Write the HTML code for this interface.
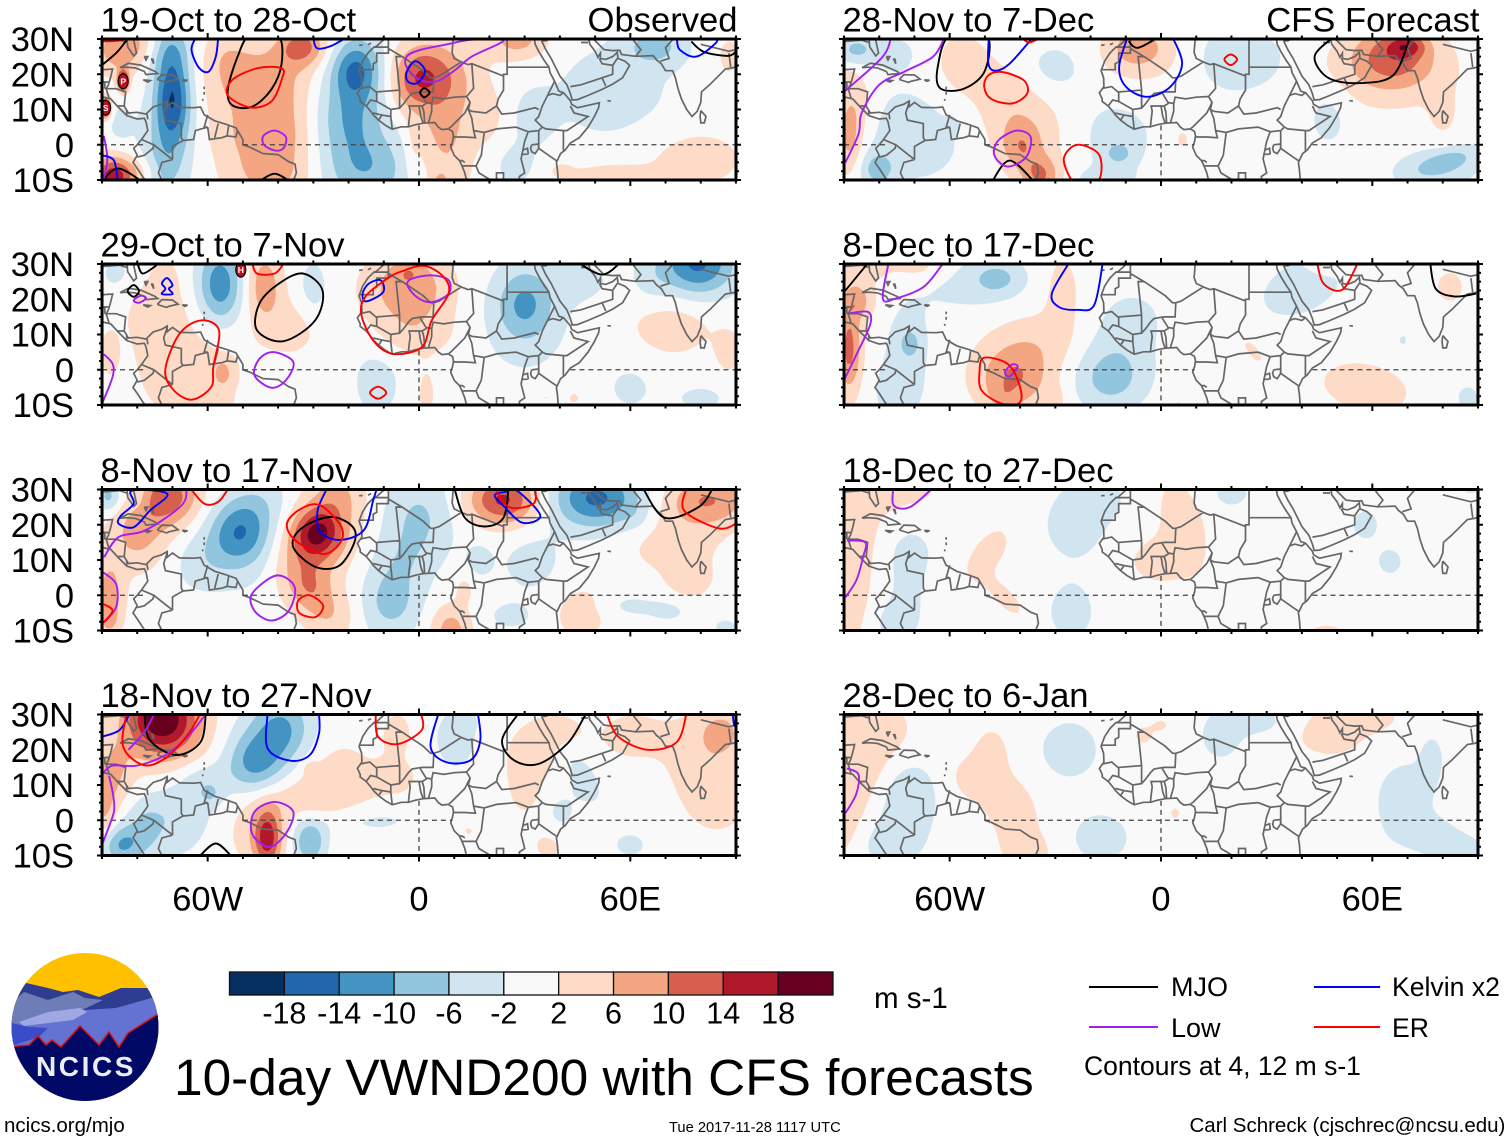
<!DOCTYPE html>
<html lang="en">
<head>
<meta charset="utf-8">
<title>10-day VWND200 with CFS forecasts</title>
<style>
html,body{margin:0;padding:0;background:#fff;}
svg{display:block;font-family:"Liberation Sans",sans-serif;}
</style>
</head>
<body>
<svg id="chart" xmlns="http://www.w3.org/2000/svg" width="1510" height="1142" viewBox="0 0 1510 1142">
  <rect width="1510" height="1142" fill="#fff"/>
  <g id="panels"></g>

  <g>
    <clipPath id="logoClip"><ellipse cx="85" cy="1027" rx="73.5" ry="74"/></clipPath>
    <g clip-path="url(#logoClip)">
      <rect x="5" y="945" width="165" height="170" fill="#ffc000"/>
      <polygon fill="#2e3d8f" points="22,982 48,988 63,992 78,990 99,997 121,988 150,988 165,1000 165,1110 5,1110 5,1000"/>
      <polygon fill="#6e7db5" points="15,1000 24,992 48,1000 73,992 85,998 103,1000 82,1010 40,1025 8,1030"/>
      <polygon fill="#6473d2" points="8,1028 40,1022 85,1010 116,1008 155,997 165,1010 165,1060 5,1060"/>
      <polygon fill="#a0a8e4" points="19,1022 48,1012 80,1008 87,1012 73,1020 24,1026"/>
      <polygon fill="#3a4cc8" points="8,1022 29,1027 48,1028 39,1037 8,1047"/>
      <polygon fill="#000a66" stroke="#e01010" stroke-width="1.5" points="8,1047 29,1045 38,1036 46,1045 52,1040 61,1047 80,1026 99,1045 109,1032 119,1047 128,1033 158,1014 170,1008 170,1115 0,1115 0,1047"/>
      <text x="86" y="1076" text-anchor="middle" font-size="28" font-weight="bold" letter-spacing="2.6" fill="#eceef6">NCICS</text>
    </g>
  </g>

  <g id="colorbar"></g>
  <text x="874" y="1008" font-size="29.5">m s-1</text>

  <g>
    <line x1="1089" x2="1158" y1="987" y2="987" stroke="#000" stroke-width="2"/>
    <text x="1171" y="996" font-size="27">MJO</text>
    <line x1="1089" x2="1158" y1="1027" y2="1027" stroke="#a020f0" stroke-width="2"/>
    <text x="1171" y="1037" font-size="27">Low</text>
    <line x1="1314" x2="1380" y1="987" y2="987" stroke="#0000ff" stroke-width="2"/>
    <text x="1392" y="996" font-size="26.6">Kelvin x2</text>
    <line x1="1314" x2="1380" y1="1027" y2="1027" stroke="#ff0000" stroke-width="2"/>
    <text x="1392" y="1037" font-size="26.6">ER</text>
    <text x="1084" y="1075" font-size="26.5">Contours at 4, 12 m s-1</text>
  </g>

  <text x="174" y="1095" font-size="51.4">10-day VWND200 with CFS forecasts</text>
  <text x="4" y="1132" font-size="20.5">ncics.org/mjo</text>
  <text x="669" y="1132" font-size="14.7">Tue 2017-11-28 1117 UTC</text>
  <text x="1189.5" y="1132" font-size="20.5">Carl Schreck (cjschrec@ncsu.edu)</text>
</svg>

<script>
const panelTitles=["19-Oct to 28-Oct","29-Oct to 7-Nov","8-Nov to 17-Nov","18-Nov to 27-Nov","28-Nov to 7-Dec","8-Dec to 17-Dec","18-Dec to 27-Dec","28-Dec to 6-Jan"];
const lonTickValues=[-60,0,60];
const lonTickLabels=["60W","0","60E"];
const latTickValues=[30,20,10,0,-10];
const latTickLabels=["30N","20N","10N","0","10S"];
const colorLevels=[-18,-14,-10,-6,-2,2,6,10,14,18];
const colorFills=["#053061","#2166ac","#4393c3","#92c5de","#d1e5f0","#f9f9f9","#fddbc7","#f4a582","#d6604d","#b2182b","#67001f"];

/* Anomaly centres: lon, lat, spread in lon, spread in lat, m/s, tilt */
const field1=[[-70,14,3.6,9,-17],[-71,28,4.5,5,-6],[-72,-7,4.5,8,-6],[-71,4,6,8,-3],[-18,21,5,6,-13],[-20,7,6.5,7,-7],[-15,-7,9.5,7,-8],[-17,12,9,20,-2.5],
[-33,28,5,4,11],[-47,14,9,8,7],[-42,22,10,6,3.2],[-55,26,5,6,3.4],[-42,-8,9,6,7.5],[-45,2,10,5,4.2],[-37,8,5,8,3],
[-85,27,5,5,9],[-78,29,4,3,3],[-87,-9,4,4,16],[-80,-8,4,3,4],[-84,18,1,2,24],[-89,10.5,1,2,24],
[0,20,6,6.5,11],[10,20,7,7,3.5],[-3,15,4,5,2.4],[7,3,6,13,7],[6,-10,1.5,1.5,4],[28,30,6,4,8],[20,8,4,6,3],[-2,-2,1.5,6,2.5],
[67,28,6,4,-7],[55,15,13,11,-3.6],[32,8,5,6,-3],[27,-6,5,5,-3],[40,-7,3,2,2.6],[88,25,3,5,3],
[54,-10,8,3,6],[78,-4,11,6.5,3.7],[-85,6,3,5,-2.8]];
const mjo1=[['c',-48,31,-40,31,-39,23,-42,15.6,-47.4,10.8,-53,11.2,-54.3,15.6,-51.5,25],[-90,22.6,-86,26,-83.3,29.3,-82,31],[-90,-10.5,-85.5,-6.7,-78.5,-10.5],[-45.5,-10.5,-41,-8.2,-36.5,-10.5],[77.3,29.3,80.8,26.4,87.6,25.2,90,26.4],['c',1.5,16,3,14.8,1.5,13.5,0.3,14.8]];
const kelvin1=[[-63.3,30.5,-64.6,27,-62.6,22,-59.8,20.7,-57.7,25,-57,30.5],[-30,30.5,-29,27.4,-25,28,-20.5,30.5],[-89.8,-3,-86.6,-4.5,-85.5,-10.5],[73.2,30.5,74,27,78.7,25,84.2,28.8,84.6,30.5],['c',-3.5,20.7,-1,23.7,1.7,21,-0.5,17.5,-3.2,18]];
const low1=[['c',-3.5,25,0,26.8,8,28.5,15,29.8,24,29.6,15,25,10,21,5,18,0,18.5,-3.5,22],['c',-41,4,-37.8,2.2,-38.5,-1,-41,-1.6,-44,0,-44.2,2.5],[-89.5,2.5,-88.5,-4,-89.7,-10.5]];
const er1=[['c',-39,21.7,-46,21.7,-53,18.4,-54.3,14,-48,10.6,-42,12.2,-39,18.4],[-90,29.3,-85,29.6,-83,30.5]];
const tc1=[[-84,18,"P"],[-89,10.5,"S"]];

const field2=[[-56.5,24,4.5,8,-13],[-85,27,5,5,-3],[-75,19,6,8,3.8],[-72,26,2,3,3],[-44,24,3.6,7,8.5],[-36,12,6,6,3.4],[-30,23,3,6,-4],
[-65,0,12,12,3.9],[-55.7,-1,1.6,2.4,6.5],[-88,5,2,5,3],[-3,23,8.5,7,9.2],[-3,28,3,2,3],[-2,10,9,5,3.6],[2,-7,2.3,6,3],
[30,19,5.5,7,-8],[30,14,9,11,-3.6],[47,25,7,5,-2.6],[79,30,7.5,6.5,-15],[66,25,4,5,-2.8],
[72,13,9,7,3.9],[88,5,3,5,3],[60,-5,5,5,-3],[80,-8,6,3,-3],[-12,-3,5.5,9,-3.4],[-60,-10,4,2,2],[44,-8,2,2,2.6],[36,-8,2.5,1.5,2.5]];
const mjo2=[[-80,30.5,-78.5,27.3,-75,29.3,-74,30.5],['c',-33,27.3,-27.4,22.5,-29.5,14,-38.5,8.1,-46,11.2,-45.3,18.8,-39.8,24.4],[45,30.5,52,27,57.3,30.5],['c',-81,24,-79.5,22.3,-81,20.7,-82.7,22.3]];
const kelvin2=[['c',-71.5,26,-70,24,-71,23,-70,21.5,-73,21.5,-72,23,-73,24.5],['c',-10.9,25.4,-10.2,22,-15,19.4,-16,21.6,-14.3,24.4]];
const low2=[['c',-41.2,5,-35.7,2.2,-37.8,-3,-42,-5.1,-46.7,-1.6,-45.3,3.1],[-89.5,4.4,-87,1.7,-87,-2,-89.8,-9.2],['c',-2,25.8,3.6,26.8,8.4,25.4,8.4,21.6,3.6,19.2,-0.6,20.6,-3.3,24],['c',-79,21,-77.5,20.3,-79.5,19,-81,19.7]];
const er2=[['c',-61.9,14,-56.8,11.2,-58.4,0.8,-59,-4.9,-64.6,-8.5,-70,-5.4,-72,0.3,-68,10.2],[-47.4,30.5,-46,27.3,-41,27.3,-38.5,30],['c',-4.7,28,1.5,29.5,7,26.3,8.4,21.6,3.6,14,0.8,6.4,-7.4,4.5,-13,8.3,-16.4,15.9,-15,21,-8.8,26],['c',-11.6,-4.8,-9.3,-6.5,-11.6,-8.2,-13.9,-6.5]];
const tc2=[[-50.6,28.4,"H"]];

const field3=[[-71,28,6.5,6,12],[-80,17,6,7,7],[-88,28,2.5,3,-8],[-80,28,2,3,-3],[-51,18,6,6.5,-11.5],[-44,27,6,6,-3.5],[-50,13,9,9,-2.8],[-62,9,6,6,-3.2],
[-29,17.5,5,5,15.5],[-28,15,8,10,4],[-23,28,5.5,6,6],[-36,9,5,6,4],[-31,2,4.5,5,7],[-25,-6,5,5,5],[-88,0,3,7,8],[-88,-7,2,3,4],
[0,22,7,9,-6.5],[-5,10,6,6,-3],[-8,-2,6,7,-7.5],[9,-10,4,5,8],[13,2,2,3,3.2],[17,10,3,4,-3],
[24,27,7,5,15],[50.5,27.5,9,6,-15],[62,22,3,3,-2],[82,27,8.5,5,10],[72,15,10,6.5,3.8],[77,4,5,4,3.2],
[32,9,7,7,-3.2],[26,-6,5,3,-3],[60,-3,6,2.4,-3],[71,-4.5,4,2.2,-3],[87,-9,3,2,-3],[46,-5,6,6,3.7]];
const mjo3=[['c',-25.4,22.2,-19.2,19.8,-18.2,15.5,-22.6,8.4,-29.5,8.1,-35.7,13.6,-33.6,18.8],[10,30.5,13,22,18.7,19.5,24,22,25.4,30.5],[63.5,30.5,69.7,22,79.4,25,83.5,30.5]];
const kelvin3=[['c',-71.5,28.8,-76.4,24,-81,19.3,-85.3,20.3,-84.6,22.6,-81,26,-81.5,29.7],[-26,30.5,-28.8,24,-28,18,-22.6,15.7,-15.7,18.4,-13,26.9,-11.9,30.5],['c',21.5,28.3,24.3,29.3,27.7,29.7,34,23.6,33.4,21.2,29,20.7,24.3,25]];
const low3=[['c',-40.5,5.6,-35.3,2.3,-37,-4.4,-42,-7.2,-46.7,-4.4,-47.4,0.4],[-89.7,6.5,-86,3.2,-86,-3.4,-89.8,-8],[-66,30.5,-67.4,25.5,-77.7,18.4,-85.3,16.5,-89.4,10.8]];
const er3=[['c',-33.6,24.5,-28,25.5,-22,19.3,-22.6,14.6,-27.4,11.7,-35,15.5,-37.5,20.3],[-65,30.5,-61,26,-57,26.5,-54,30.5],['c',-31,0,-27.2,-3,-29.5,-6.2,-34,-5,-34.3,-1.5],[-89.5,-2.5,-87,-4.4,-89.5,-7.7],[21.5,30.5,25.6,25,32.5,26,33,30.5],[76,30.5,75.3,24,85,19,90,20.3]];
const tc3=[];

const field4=[[-73,29,7,7,20],[-70,22,12,9,3],[-87,13,4,7,6],[-89.5,1,2.5,7,6],[-47,16,5.5,6,-9],[-39,26,6,7,-9],[-42,20,10,9,-3.5],[-61,11,5,4,-4.5],[-59,7,2,2,-3],[-68,4,8,6,-3.4],
[-85,-7,4.5,4,-10],[-78,-2,3.5,5,-3.5],[-72,-3,8,7,-3.2],[-43,-5,2.8,6,15],[-48,-4,6,7,3],[-31,-6,3.2,4.5,-10.5],[-18,0,13,3.2,-3.6],
[-26,12,10,9,4.2],[-35,5,12,5,3.6],[-31,15,1.5,1.5,3],[-6,25,3.5,5,3],[-6,12,5,4,2.6],[10.5,23,5,7,-3.6],[13,28,2,2,-3.2],
[32,18,7,8,3.2],[40,25,5,4,3],[30,8,3,5,2.5],[46,13,4,7,-3.6,-0.4],[40,2,3.5,5,-3],[81,18,8,10,4],[86,25,4,4,6],[85,6,6,7,3.3],[60,24,8,6,3],[60,-7,4,3,-3],[37,-7,4,4,3],[14,-3,2,2,2.4]];
const mjo4=[[-78,30.5,-76.4,22.7,-68.8,18.5,-62,22.2,-60.5,30.5],[-62.6,-10.5,-57.7,-6.6,-53,-10.5],[28.4,30.5,23.6,22.7,27,17,34,16,42.2,21.8,47,29.4,48,30.5]];
const kelvin4=[[-90,23.7,-85,25.6,-82,30.5],[-43,30.5,-43,20.4,-36.5,16.9,-31,18.5,-28.4,24.6,-28.4,30.5],[5.6,30.5,3.3,20.8,7.7,16.5,14.6,17,17.4,22.7,16.7,30.5],[89,30.5,89.5,27,90.5,26]];
const low4=[[-61,29.5,-65.4,24,-72,18.5,-80,15.5,-87,15.5,-90,13],[-88,12.6,-87,8,-86.5,4,-87,1,-90,-7],[-75,30.5,-78,25,-82.5,20],['c',-41,5.2,-35.7,2.4,-37.8,-3.8,-42.6,-7.6,-47.4,-3.8,-46.7,2.4]];
const er4=[[-83,30.5,-84,20.8,-78,15.6,-71.5,18,-65.4,24.6,-62,30.5],[-12.3,30.5,-11.6,23.7,-6,21.6,0.8,25.6,0.5,30.5],[53.2,30.5,56.6,23.7,65,20,73.2,22.2,76,30.5]];
const tc4=[];

const field5=[[-86.5,27,4,3,-7],[-75,26,5,4,-2.8],[-88.5,3,2.8,8,8.5],[-85,13,3,6,3],[-89,18,2,3,3],[-70,3,12,11,-3.7],[-59.5,5.5,1.3,1.5,-4],[-80.5,-7,3.5,3.5,-7],
[-57,22,6.5,8,3.7],[-43.6,12.5,7,8,3.6],[-37,3,8,7,4],[-40,-1,4,4.5,6],[-34,-9,4,4,10],[-30.4,22,6.5,5,-3.5],[-12,-2.5,2.5,2,-6],[-13,2,9,9,-3.3],[-18,-10,8,2.5,-2],
[6,1.5,1.8,2.8,3],[-6.6,28,5.5,4,7],[-7,24,9,6,3],[18.5,24.5,5.5,6,-3.4],[27,24,8,6.5,-3.3],[70,28,3.5,2,8],[66,26,8,6,10],[64,20,14,7,4.5],[80,8,3,5,2.8],[47.5,8.5,4.5,7,-3.4],[80.6,-5,5,2.8,-7,1.2],[78,-7,11,5,-3.2]];
const mjo5=[['c',-60,31,-63.4,22,-62.7,16,-56,15.9,-50,21,-49.5,31],[-48,-10.5,-43,-4.5,-36,-10.5],[-9.2,29.4,-6.6,27.5,-0.7,30.5],[48.9,30.5,43.6,25,47.6,18.9,56.8,17.5,66,19.8,70.7,30.5]];
const kelvin5=[[-48.9,30.5,-49,23,-47,21,-43,23,-36.3,30.5],[-9.5,30.5,-11.9,22,-9.9,16.4,-4,13.6,2.6,16.4,6,23,3.3,30.5]];
const low5=[[-76.6,30.5,-79,25,-88.5,16.3,-90,15],[-61.4,30.5,-64.7,25,-72.7,20.8,-80,17,-85,9,-85.9,3,-89.6,-5],['c',-41,4,-37,2.2,-38.3,-3.5,-43.6,-6.2,-47.3,-3,-46.2,1.2]];
const er5=[['c',-45,20.6,-39,18.3,-38,14.5,-42.3,11.7,-48.2,13,-50.2,16.4,-49,19.7],[-39.5,30.5,-37.5,29,-34,30.5],['c',-23.8,0,-17.8,-2.5,-17,-8.2,-19,-11,-24,-11,-26.4,-8.2,-27.5,-3.5],['c',19.8,25.6,21.6,24.2,19.8,22.6,18,24.2]];
const tc5=[];

const field6=[[-88.5,6,2.5,9,11.5],[-86,19.7,3.5,4,7],[-68.7,29,6,3,3.6],[-83,29,5,3,3],[-46.2,26,5,3.5,-6],[-55,24,10,6,-3],[-71.3,7.4,1.8,2.5,-6.5],[-72,7,5.5,10,-3.2],[-75,-7,5,6,-3.2],
[-42,-3,7,6,7.5],[-45,-8,3,2.5,2.5],[-42,0,9,8,2.6],[-35,8,9,6,3.5],[-28,22,3.5,8,3.6],[-30,-9,2,3,3],[-14.5,-3,7,6,-7],[-12,6,8,7,-3],[-8,15,5.5,5,-3],[5,-10,1.5,1.5,2.6],
[26,5.5,2,3.5,3,-0.6],[58,-5,10,6,3.8,-0.4],[40,23.5,10,8,-3.3,0.5],[68.7,8.3,1.2,1.8,-2.8],[82,23.5,3.5,4,3.2],[60,30,7,2,2.6],[87,-8,3,3.5,-3],[46,30,3,2,2.4]];
const mjo6=[[-83,30.5,-90,22],[76.4,30.5,78,23,83.2,20.8,89.5,21.6]];
const kelvin6=[[-26,30.5,-31,21.6,-29,17.8,-23.8,17,-19,18.3,-16.5,30.5]];
const low6=[[-77.3,30.5,-79,20.2,-75.3,20.2,-67.4,23.5,-62,30],[-88.5,16,-83.2,16.4,-82.5,13,-85.9,5.5,-90,-3],['c',-42.3,1.5,-40.7,0.8,-43,-1.9,-44.3,-0.7]];
const er6=[['c',-50.2,3.4,-43.6,1.7,-40.3,-4,-40,-9.2,-45,-9.7,-50.9,-5.9,-51.5,-0.2],[44.3,30.5,46.2,24.4,51.5,22.7,56,30.5]];
const tc6=[];

const field7=[[-88,15,10,15,3.6],[-90,-5,4,7,3.6],[-76,30,10,3.5,3.4],[-24,20,8.5,9,-3.2],[-18,28,5,4,-3],[-49,12,4.5,6.5,3.3,0.5],[-72,13,5.5,5.5,-3.3],[-73,1,5,8,-3.3],[-76,-8,4.5,4,-3.1],
[-44,-1,3.2,4.5,3.1,-0.7],[-25.5,-5,5.5,6.5,-3.3],[3.5,25,3.5,7,3.2],[0,10,8,5.5,3.5],[9,18,3,7,3],[20,29,4.5,3.5,-3.1],[58,20,3.5,4,-3.1],[65,9.5,3.2,3.4,-3.1],[47,-10.5,5,2,3],[-57,-10.5,3,1,2.6],[88,30,3,1.5,2.6]];
const mjo7=[];
const kelvin7=[];
const low7=[[-76,30.5,-75.9,25.5,-71.3,25,-64.7,30.5],[-89.2,15.5,-84,15,-84.6,10.8,-86.5,4.2,-89.6,-0.6]];
const er7=[];
const tc7=[];

const field8=[[-82,25,9,8,3.8],[-85,12,5,9,3.6],[-89,2,3,6,3.2],[-90,-3,1.5,4,3],[-26,20,7.5,7.5,-3.3],[-48,20,3.5,5,3.2],[-52,12,6,5,3.8],[-43,5,5,5,3.6],[-40,-5,5,6,3.4],[-37,-9,4,3,3],
[-71,10,5.5,6,-3.2],[-73,2,6.5,7,-3.3],[-77,-7,6.5,5,-3.2],[-17,-5,7,6,-3.4],[4,2,1.5,1.8,2.7],[-5,24,2.5,2.5,2.9],[0,27,2,1.5,2.6],[-10,28,1.5,1.5,2.2],
[17,24,5,6,-3.3],[28,28,6,3,-3.2],[48,24,8,5,3.4],[58,29,8,3,3.2],[71,8,5.5,7,-3.3],[77,18,2.5,5,-3],[76,-4,7,4,-3.2],[85,-8.5,6,3,-3.3],[66,4,3.5,6,-2.6]];
const mjo8=[];
const kelvin8=[];
const low8=[[-89.2,14.7,-85.9,13,-86.5,7.5,-89.6,2]];
const er8=[];
const tc8=[];

const panelFields=[field1,field2,field3,field4,field5,field6,field7,field8];
const panelMjo=[mjo1,mjo2,mjo3,mjo4,mjo5,mjo6,mjo7,mjo8];
const panelKelvin=[kelvin1,kelvin2,kelvin3,kelvin4,kelvin5,kelvin6,kelvin7,kelvin8];
const panelLow=[low1,low2,low3,low4,low5,low6,low7,low8];
const panelEr=[er1,er2,er3,er4,er5,er6,er7,er8];
const panelTc=[tc1,tc2,tc3,tc4,tc5,tc6,tc7,tc8];

/* Coastlines and borders as lon,lat */
const coastLines=[
[-9.8,31,-9.8,30,-12,28,-13,27.5,-14.5,26,-16,23.7,-17,21,-16.3,19,-16.2,16.5,-17.5,14.7,-16.7,13,-16.7,12.3,-15,11,-13.7,9.5,-13,8.5,-11.5,7,-9.5,5.5,-7.6,4.4,-5,5.1,-3,5.1,-1,5.7,1.2,6.1,4.5,6.3,5.5,5,6.5,4.3,8.3,4.5,9.5,3.8,9.8,2.5,9.5,0.8,9,-0.7,10,-3,11.5,-4.5,12.2,-6,13,-8,13.7,-11],
[39.6,-11,39.3,-7,39,-5,40.2,-2.5,41.5,-1.5,43,0.5,45.5,2,48,5,49.8,8,51,10.5,51.2,11.9,48.5,11.3,45,10.5,43.3,11.5,43,12.5,41,14.8,39.7,15.2,38.5,18,37.2,20.5,36.9,22,35.5,24,34,26.5,33,28.5,32.6,31],
[34.8,29.5,36,27,37.5,24.5,39,21.5,40,19.5,42,17,43,14.5,43.5,12.7,45,12.8,48,14,52,15.7,55,17.2,57.8,19,59.8,22.5,58.5,23.7,56.5,24.5,56.3,26.2,55,25,53,24.2,51.5,24.5,51.5,26,50.8,24.8,50,26.5,48.5,28.5,48,31],
[48.5,31,50.5,29,52.5,27,55,26.7,57,26.8,57.5,25.6,61.5,25.1,66.5,25.3,67.5,24,68.8,23,70,21,72,21,72.8,19,73.5,16,74.5,13,76,10,77.5,8,79,9.5,80,12,80.2,15,82.5,17,85.5,20,87,21.5,89,21.8,91,22.5],
[80,9.7,81.5,8,81,6.2,80,6.2,79.8,8,80,9.7],
[-91,21.2,-87,21.5,-87.6,19,-88.2,17,-88.8,15.9,-86,15.9,-83.3,15,-83.7,11,-82.5,9,-80,9.2,-77.5,8.7,-75.5,10.7,-73,11.5,-71.5,12.4,-71.5,10.8,-70,12,-68,10.6,-64,10.5,-62,10.7,-61,8.5,-58,6.8,-55,5.9,-52,4.8,-50,1.5,-50,0,-48,-0.7,-44.3,-2.5,-40,-2.8,-37,-4.8,-35.2,-5.5,-34.8,-8,-36,-11],
[-91,13.8,-87.5,13,-85.7,11,-83,8.3,-80,7.3,-78,7.5,-77.5,6.5,-77,4,-78.8,1.5,-80,0,-81,-1,-80,-3,-81.2,-5,-79.8,-7,-78.5,-9,-77,-11],
[-83,31,-82.7,27.8,-81,25.2,-80.2,26,-81.3,31],
[-91,29.2,-85,29.7,-83,29],
[-84.9,21.9,-82.5,23.1,-79,22.6,-75,20.8,-74.2,20.2,-77.5,19.9,-78,20.8,-80.5,21.8,-83,22,-84.9,21.9],
[-74.3,18.5,-73,19.9,-70,19.8,-68.4,18.6,-71,18,-71.7,17.7,-74.3,18.5],
[-78.3,18.4,-76.3,18.2,-77,17.8,-78.3,18.4],
[-67.2,18.4,-65.7,18.3,-66.5,18,-67.2,18.4],
[-78,25,-77.5,24,-77,25,-78,25],[-76,24.5,-75.3,23,-75.6,24.5],[-61,16.5,-61,15.8],[-61,15,-61,14.2],[-61.5,13,-61.3,12.5],[-17,28.2,-16,28.3],[-14.5,28.4,-13.6,28.8],[53.5,12.5,54.5,12.4],
[32,0,34,0.2,34,-1,33,-2.5,32,-2,31.7,-1,32,0]
];
const borderLines=[
[-13,27.7,-8.7,27.7],[-8.7,31,-8.7,26,-12,26,-12,23.5,-13,23,-13,21.3,-17,21.3],[-8.7,27.3,-4.8,25,-6.5,25,-5.5,15.5,-12,15,-12.2,14.8],[-16.5,16,-14,16.5,-12,14.8,-12,12.3],
[-4.8,25,1.2,21,3.3,19,4.2,19,5.8,19.5,12,23.5,14,22.7],[9.8,31,9.4,26.2,10,24.5,12,23.5],[14,22.7,15,23,24,19.5,24,20,25,20,25,31],[25,22,37,22],[4.2,19,4,15,1,15,0.2,14.9],
[-5.5,15.5,-5.5,10.4,-8,10,-12,12.3,-13.7,12.7,-15,11],[-5.5,10.4,-4.5,11.5,-3,13.5,-2,14.5,0.2,14.9,2,12,3.6,11.7,4,13.5,7,13,10,13.5,13.5,13.7,15.5,16,15,23],
[24,20,24,15.5,22.5,13,22,11,23.5,8.7,27,9,33,10.5,34,10],[13.5,13.7,14.5,12,14,10,15,7.5,15.5,4,16,2,13,2.2,9.8,2.2],[14,10,15,9.5,19,9,22,11],[14.5,12,13,9,11,7,9,5,8.5,4.7],
[2.7,6.3,3.6,9.5,3.6,11.7],[1.6,6.2,1.4,9.3,0.9,11],[1.2,6.1,0.5,8,0,11],[-3,5.1,-2.8,7,-2.5,9.5,-2.8,11,0,11,0.9,11,2.2,11.8],[-13,9,-10.5,8.4,-8,8,-7.6,4.4],[-11.5,7,-10.5,8.4],[-8,8,-8,10],
[38.5,18,36.5,14,35,11,34,8,33,7,35,5,36,4.5,41,4,42,4,48,8,44,9,43,11],[36.5,14,38,14.5,40,14,41,14.8],[27.5,5,31,3.7,34,4,35,5],[31,3.7,30,1,29.5,-1.5,29,-4,30,-8,28.5,-9,28.5,-11],[18.5,3.5,22,4.5,27.5,5],[15.5,4,18.5,3.5,17.7,-3,16.2,-6,12.2,-6],[13,-5,12.3,-4.5,11.5,-4.5],[16.2,-6,17,-8,22,-11],[34,4,34,-1,37.5,-3.5,39.3,-4.7],[41,4,41,-1.7],[39.5,-10.5,34.5,-11],[22,-11,22,-8,24,-8,24,-11],[29.5,-1.5,30.8,-1,31,-2.5,30.5,-2.7,29,-2.7],
[43,16.5,46,17,52,19,55,20,55,22.5,52,23,51.2,24.5],[53,16.7,52,19],[55,22.5,56.3,24.5],[34.8,29.5,36,29.5,38,30.5],[46,29,48,29],[61.5,25.1,63,27,61,29.5,61,31],[68.5,23.7,71,24.5,70,27.5,73,31],[80,28.5,88,26.5,89,26.8,91,27],[88,26,88.5,22],
[-71.5,12,-72.5,9,-72,7,-67.5,6,-67.5,2,-67,1.2,-70,-0.5,-70,-4.2],[-78.8,1.5,-75.3,0,-75.5,-1,-78,-3,-80,-3.5],[-70,-4.2,-73,-5,-74,-8,-72.5,-11],[-75.3,0,-70,-4.2],[-60,8.5,-61,5,-60,5,-63.5,4,-64,1.5,-67,1.2],[-57,6,-58,2],[-54,5.7,-54.5,2.5],[-60,5,-59.5,1.5,-56,2,-54.5,2.5,-52,2.2,-51.5,4],[-77.2,8.7,-77,7.2],[-88.2,17.8,-89.2,17.8,-89.2,15.9],[-83.7,11,-85.7,11],[-83,9.6,-83,8.3],[-88,13.2,-88.8,15.9],[-91,17.8,-89.2,17.8]
];
const equatorSegments=[[-90,-78],[-50,9.5],[43,90]];
const meridianRange=[-10,5.5];

const PX_LON=3.522, PX_LAT=3.525;
const SVGNS="http://www.w3.org/2000/svg";
const panelCentersX=[419,419,419,419,1161,1161,1161,1161];
const panelTopsY=[39,264,489.5,714.5,39,264,489.5,714.5];
const root=document.getElementById('panels');

function make(tag,parent){const el=document.createElementNS(SVGNS,tag);parent.appendChild(el);return el;}

function fieldValue(blobs,lon,lat){
  let v=0;
  for(const b of blobs){
    const tilt=b[5]||0;
    const dx=(lon-b[0]-tilt*(lat-b[1]))/b[2];
    const dy=(lat-b[1])/b[3];
    v+=b[4]*Math.exp(-0.5*(dx*dx+dy*dy));
  }
  return v;
}

/* Filled iso-band region (value*sign >= level) as marching-squares path */
function isoPath(grid,lons,lats,level,sign,xf,yf){
  let d='';
  const f=n=>n.toFixed(1);
  for(let j=0;j<lats.length-1;j++){
    for(let i=0;i<lons.length-1;i++){
      const corners=[[lons[i],lats[j],grid[j][i]*sign],[lons[i+1],lats[j],grid[j][i+1]*sign],[lons[i+1],lats[j+1],grid[j+1][i+1]*sign],[lons[i],lats[j+1],grid[j+1][i]*sign]];
      const pts=[];
      for(let k=0;k<4;k++){
        const a=corners[k],b=corners[(k+1)%4];
        const ai=a[2]>=level,bi=b[2]>=level;
        if(ai)pts.push([a[0],a[1]]);
        if(ai!==bi){
          const t=(level-a[2])/(b[2]-a[2]);
          pts.push([a[0]+t*(b[0]-a[0]),a[1]+t*(b[1]-a[1])]);
        }
      }
      if(pts.length>2){
        d+='M'+pts.map(p=>f(xf(p[0]))+' '+f(yf(p[1]))).join('L')+'Z';
      }
    }
  }
  return d;
}

function smoothPath(flat,closed,xf,yf){
  const p=[];
  for(let i=0;i<flat.length;i+=2)p.push([xf(flat[i]),yf(flat[i+1])]);
  const n=p.length;
  const at=i=>closed?p[(i+n)%n]:p[Math.max(0,Math.min(n-1,i))];
  let d='M'+p[0][0].toFixed(1)+' '+p[0][1].toFixed(1);
  const last=closed?n:n-1;
  for(let i=0;i<last;i++){
    const p0=at(i-1),p1=at(i),p2=at(i+1),p3=at(i+2);
    const c1x=p1[0]+(p2[0]-p0[0])/6,c1y=p1[1]+(p2[1]-p0[1])/6;
    const c2x=p2[0]-(p3[0]-p1[0])/6,c2y=p2[1]-(p3[1]-p1[1])/6;
    d+='C'+c1x.toFixed(1)+' '+c1y.toFixed(1)+' '+c2x.toFixed(1)+' '+c2y.toFixed(1)+' '+p2[0].toFixed(1)+' '+p2[1].toFixed(1);
  }
  return d+(closed?'Z':'');
}

function straightPath(flat,xf,yf){
  let d='';
  for(let i=0;i<flat.length;i+=2){
    d+=(i?'L':'M')+xf(flat[i]).toFixed(1)+' '+yf(flat[i+1]).toFixed(1);
  }
  return d;
}

function drawCurves(parent,curves,color,name,xf,yf){
  for(const c of curves){
    const closed=c[0]==='c';
    const flat=closed?c.slice(1):c;
    const el=make('path',parent);
    
    
    el.setAttribute('d',smoothPath(flat,closed,xf,yf));
    el.setAttribute('fill','none');
    el.setAttribute('stroke',color);
    el.setAttribute('stroke-width','1.9');
  }
}

function drawPanel(idx){
  const cx=panelCentersX[idx],top=panelTopsY[idx];
  const xf=lon=>cx+lon*PX_LON;
  const yf=lat=>top+(30-lat)*PX_LAT;
  const g=make('g',root);
  
  

  const clip=make('clipPath',g);
  clip.setAttribute('id','clip'+idx);
  const cr=make('rect',clip);
  cr.setAttribute('x',xf(-90));cr.setAttribute('y',yf(30));
  cr.setAttribute('width',xf(90)-xf(-90));cr.setAttribute('height',yf(-10)-yf(30));

  const inner=make('g',g);
  inner.setAttribute('clip-path','url(#clip'+idx+')');
  
  

  const bg=make('rect',inner);
  
  
  bg.setAttribute('x',xf(-90));bg.setAttribute('y',yf(30));
  bg.setAttribute('width',xf(90)-xf(-90));bg.setAttribute('height',yf(-10)-yf(30));
  bg.setAttribute('fill','#f9f9f9');

  const lons=[],lats=[];
  for(let l=-91;l<=91;l+=1)lons.push(l);
  for(let l=-11;l<=31;l+=1)lats.push(l);
  const grid=lats.map(la=>lons.map(lo=>fieldValue(panelFields[idx],lo,la)));
  const posLevels=colorLevels.filter(v=>v>0);
  const negLevels=colorLevels.filter(v=>v<0).reverse();
  posLevels.forEach(lv=>{
    const el=make('path',inner);
    
    
    el.setAttribute('d',isoPath(grid,lons,lats,lv,1,xf,yf));
    el.setAttribute('fill',colorFills[colorLevels.indexOf(lv)+1]);
  });
  negLevels.forEach(lv=>{
    const el=make('path',inner);
    
    
    el.setAttribute('d',isoPath(grid,lons,lats,-lv,-1,xf,yf));
    el.setAttribute('fill',colorFills[colorLevels.indexOf(lv)]);
  });

  const coast=make('path',inner);
  
  
  coast.setAttribute('d',coastLines.map(l=>straightPath(l,xf,yf)).join(''));
  coast.setAttribute('fill','none');
  coast.setAttribute('stroke','#666');
  coast.setAttribute('stroke-width','1.7');
  const borders=make('path',inner);
  
  
  borders.setAttribute('d',borderLines.map(l=>straightPath(l,xf,yf)).join(''));
  borders.setAttribute('fill','none');
  borders.setAttribute('stroke','#666');
  borders.setAttribute('stroke-width','1.7');

  equatorSegments.forEach(s=>{
    const el=make('line',inner);
    
    
    el.setAttribute('x1',xf(s[0]));el.setAttribute('x2',xf(s[1]));
    el.setAttribute('y1',yf(0));el.setAttribute('y2',yf(0));
    el.setAttribute('stroke','#444');el.setAttribute('stroke-width','1.3');
    el.setAttribute('stroke-dasharray','5 4');
  });
  const mer=make('line',inner);
  
  
  mer.setAttribute('x1',xf(0));mer.setAttribute('x2',xf(0));
  mer.setAttribute('y1',yf(meridianRange[1]));mer.setAttribute('y2',yf(meridianRange[0]));
  mer.setAttribute('stroke','#444');mer.setAttribute('stroke-width','1.3');
  mer.setAttribute('stroke-dasharray','5 4');

  drawCurves(inner,panelMjo[idx],'#000000','mjo-contour',xf,yf);
  drawCurves(inner,panelLow[idx],'#a020f0','low-contour',xf,yf);
  drawCurves(inner,panelKelvin[idx],'#0000ff','kelvin-contour',xf,yf);
  drawCurves(inner,panelEr[idx],'#ff0000','er-contour',xf,yf);

  panelTc[idx].forEach(t=>{
    const m=make('ellipse',inner);
    
    
    m.setAttribute('cx',xf(t[0]));m.setAttribute('cy',yf(t[1]));
    m.setAttribute('rx','5');m.setAttribute('ry','7.5');
    m.setAttribute('fill','#c01020');m.setAttribute('stroke','#000');m.setAttribute('stroke-width','1.2');
    const tx=make('text',inner);
    
    
    tx.setAttribute('x',xf(t[0]));tx.setAttribute('y',yf(t[1])+3.2);
    tx.setAttribute('text-anchor','middle');tx.setAttribute('font-size','8.5');tx.setAttribute('font-weight','bold');tx.setAttribute('fill','#fff');
    tx.textContent=t[2];
  });

  const frame=make('rect',g);
  
  
  frame.setAttribute('x',xf(-90));frame.setAttribute('y',yf(30));
  frame.setAttribute('width',xf(90)-xf(-90));frame.setAttribute('height',yf(-10)-yf(30));
  frame.setAttribute('fill','none');frame.setAttribute('stroke','#000');frame.setAttribute('stroke-width','3');

  let tick='';
  for(let lo=-90;lo<=90;lo+=10){
    const major=lonTickValues.includes(lo);
    const len=major?6:3.5;
    tick+='M'+xf(lo)+' '+yf(30)+'v'+(-len)+'M'+xf(lo)+' '+yf(-10)+'v'+len;
  }
  for(let la=-10;la<=30;la+=2.5){
    const major=la%10===0;
    const len=major?5:3;
    tick+='M'+xf(-90)+' '+yf(la)+'h'+(-len)+'M'+xf(90)+' '+yf(la)+'h'+len;
  }
  const ticks=make('path',g);
  
  
  ticks.setAttribute('d',tick);
  ticks.setAttribute('stroke','#000');ticks.setAttribute('stroke-width','2');ticks.setAttribute('fill','none');

  const title=make('text',g);
  
  
  title.setAttribute('x',xf(-90)-1.5);title.setAttribute('y',top-7.5);
  title.setAttribute('font-size','34.6');
  title.textContent=panelTitles[idx];

  if(idx<4){
    latTickValues.forEach((la,i)=>{
      const t=make('text',g);
      
      
      t.setAttribute('x',74);t.setAttribute('y',yf(la)+12);
      t.setAttribute('text-anchor','end');t.setAttribute('font-size','34.5');
      t.textContent=latTickLabels[i];
    });
  }
  if(idx===3||idx===7){
    lonTickValues.forEach((lo,i)=>{
      const t=make('text',g);
      
      
      t.setAttribute('x',xf(lo));t.setAttribute('y',yf(-10)+55);
      t.setAttribute('text-anchor','middle');t.setAttribute('font-size','34.5');
      t.textContent=lonTickLabels[i];
    });
  }
  if(idx===0||idx===4){
    const t=make('text',g);
    
    
    t.setAttribute('x',xf(90)+1.5);t.setAttribute('y',top-7.5);
    t.setAttribute('text-anchor','end');t.setAttribute('font-size','34.6');
    t.textContent=idx===0?'Observed':'CFS Forecast';
  }
}
for(let i=0;i<8;i++)drawPanel(i);

/* Colorbar */
const cbar=document.getElementById('colorbar');
const cbLeft=229.5,cbWidth=603.5,cbTop=972,cbH=23;
const cbX=i=>cbLeft+i*cbWidth/colorFills.length;
colorFills.forEach((c,i)=>{
  const r=make('rect',cbar);
  
  
  r.setAttribute('x',cbX(i));r.setAttribute('y',cbTop);
  r.setAttribute('width',cbX(i+1)-cbX(i));r.setAttribute('height',cbH);
  r.setAttribute('fill',c);r.setAttribute('stroke','#111');r.setAttribute('stroke-width','1.3');
});
colorLevels.forEach((v,i)=>{
  const t=make('text',cbar);
  
  
  t.setAttribute('x',cbX(i+1));t.setAttribute('y',1023.5);
  t.setAttribute('text-anchor','middle');t.setAttribute('font-size','30.5');
  t.textContent=String(v);
});
</script>
</body>
</html>
